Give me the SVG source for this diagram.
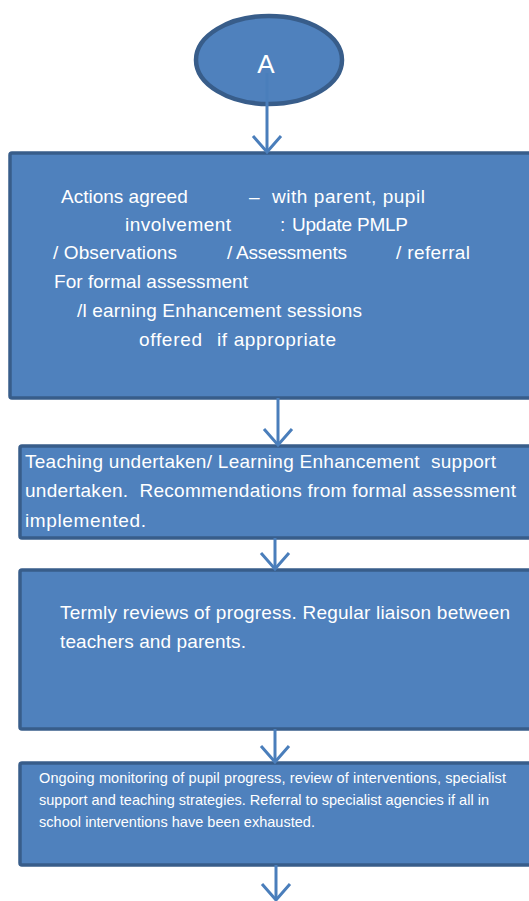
<svg xmlns="http://www.w3.org/2000/svg" width="529" height="901" viewBox="0 0 529 901">
<defs>
<style>
.box{fill:#4F81BD;stroke:#385D8A;stroke-width:3.5}
.t{fill:#FFFFFF;font-family:"Liberation Sans",Arial,sans-serif;font-size:19px;white-space:pre}
.s{fill:#FFFFFF;font-family:"Liberation Sans",Arial,sans-serif;font-size:14.5px}
.c{fill:none;stroke:#4A7EBB;stroke-width:3;marker-end:url(#ah)}
</style>
<marker id="ah" markerUnits="userSpaceOnUse" markerWidth="40" markerHeight="40" viewBox="-20 -20 40 40" refX="0" refY="0" orient="auto" overflow="visible">
<path d="M-16,-14 L0,0 L-16,14" fill="none" stroke="#4A7EBB" stroke-width="3"/>
</marker>
</defs>
<rect width="529" height="901" fill="#FFFFFF"/>
<g id="nodeA">
<ellipse cx="269" cy="60" rx="73" ry="44" fill="#4F81BD" stroke="#385D8A" stroke-width="4.5"/>
<text x="266" y="73" text-anchor="middle" fill="#FFFFFF" font-family="Liberation Sans, Arial, sans-serif" font-size="26">A</text>
</g>
<g id="actions">
<rect class="box" x="10" y="153" width="530" height="245" rx="2"/>
<text class="t" y="203"><tspan x="61">Actions agreed</tspan><tspan x="249">–</tspan><tspan x="272" textLength="153">with parent, pupil</tspan></text>
<text class="t" y="231"><tspan x="125" textLength="106">involvement</tspan><tspan x="280">:</tspan><tspan x="292" textLength="116">Update PMLP</tspan></text>
<text class="t" y="259"><tspan x="53" textLength="124">/ Observations</tspan><tspan x="227" textLength="120">/ Assessments</tspan><tspan x="396" textLength="74">/ referral</tspan></text>
<text class="t" x="54" y="288" textLength="194">For formal assessment</text>
<text class="t" x="77" y="317" textLength="285">/l earning Enhancement sessions</text>
<text class="t" y="346"><tspan x="139" textLength="63">offered</tspan><tspan x="217" textLength="119">if appropriate</tspan></text>
</g>
<g id="teaching">
<rect class="box" x="20" y="446" width="520" height="92" rx="2"/>
<text class="t" x="25" y="468" textLength="471">Teaching undertaken/ Learning Enhancement  support</text>
<text class="t" x="25" y="497" textLength="491">undertaken.  Recommendations from formal assessment</text>
<text class="t" x="25" y="527" textLength="121">implemented.</text>
</g>
<g id="reviews">
<rect class="box" x="20" y="570" width="520" height="159" rx="2"/>
<text class="t" x="60" y="619" textLength="450">Termly reviews of progress. Regular liaison between</text>
<text class="t" x="60" y="648" textLength="186">teachers and parents.</text>
</g>
<g id="monitoring">
<rect class="box" x="20" y="763" width="520" height="102" rx="2"/>
<text class="s" x="39" y="783" textLength="467">Ongoing monitoring of pupil progress, review of interventions, specialist</text>
<text class="s" x="39" y="805" textLength="450">support and teaching strategies. Referral to specialist agencies if all in</text>
<text class="s" x="39" y="827" textLength="276">school interventions have been exhausted.</text>
</g>
<g id="connectors">
<line class="c" x1="267" y1="73" x2="267" y2="152"/>
<line class="c" x1="278" y1="398" x2="278" y2="445"/>
<line class="c" x1="275" y1="538" x2="275" y2="569"/>
<line class="c" x1="275" y1="729" x2="275" y2="762"/>
<line class="c" x1="276" y1="865" x2="276" y2="900"/>
</g>
</svg>
